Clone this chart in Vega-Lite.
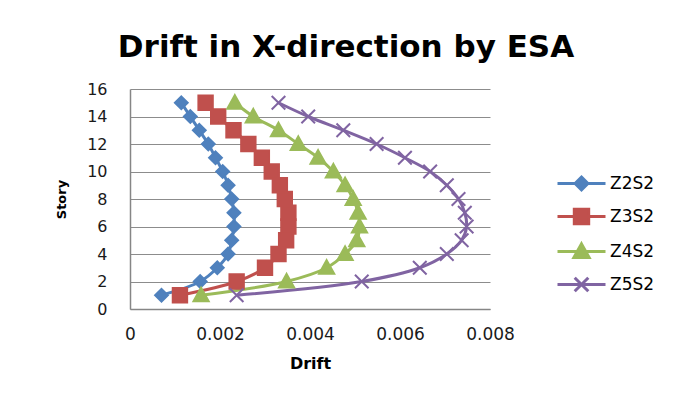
{
  "$schema": "https://vega.github.io/schema/vega-lite/v6.json",
  "width": 360,
  "height": 220,
  "autosize": "none",
  "padding": {"left": 130, "top": 89, "right": 196, "bottom": 85},
  "background": "white",
  "title": {
    "text": "Drift in X-direction by ESA",
    "font": "DejaVu Sans",
    "fontSize": 31,
    "fontWeight": "bold",
    "color": "#000000",
    "anchor": "middle",
    "dx": 36,
    "offset": 17
  },
  "config": {
    "view": {"stroke": null},
    "axis": {
      "labelFont": "DejaVu Sans",
      "labelColor": "#1a1a1a",
      "titleFont": "DejaVu Sans",
      "titleFontWeight": "bold",
      "titleColor": "#000000",
      "domainColor": "#868686",
      "domainWidth": 1.5,
      "gridColor": "#8c8c8c",
      "gridWidth": 1,
      "ticks": false
    }
  },
  "data": {
    "values": [
      {"series": "Z2S2", "story": 1, "drift": 0.0007},
      {"series": "Z2S2", "story": 2, "drift": 0.00156},
      {"series": "Z2S2", "story": 3, "drift": 0.00194},
      {"series": "Z2S2", "story": 4, "drift": 0.00218},
      {"series": "Z2S2", "story": 5, "drift": 0.00226},
      {"series": "Z2S2", "story": 6, "drift": 0.00231},
      {"series": "Z2S2", "story": 7, "drift": 0.00231},
      {"series": "Z2S2", "story": 8, "drift": 0.00226},
      {"series": "Z2S2", "story": 9, "drift": 0.00218},
      {"series": "Z2S2", "story": 10, "drift": 0.00206},
      {"series": "Z2S2", "story": 11, "drift": 0.0019},
      {"series": "Z2S2", "story": 12, "drift": 0.00174},
      {"series": "Z2S2", "story": 13, "drift": 0.00154},
      {"series": "Z2S2", "story": 14, "drift": 0.00134},
      {"series": "Z2S2", "story": 15, "drift": 0.00114},
      {"series": "Z3S2", "story": 1, "drift": 0.00111},
      {"series": "Z3S2", "story": 2, "drift": 0.00237},
      {"series": "Z3S2", "story": 3, "drift": 0.003},
      {"series": "Z3S2", "story": 4, "drift": 0.0033},
      {"series": "Z3S2", "story": 5, "drift": 0.00347},
      {"series": "Z3S2", "story": 6, "drift": 0.00352},
      {"series": "Z3S2", "story": 7, "drift": 0.00352},
      {"series": "Z3S2", "story": 8, "drift": 0.00344},
      {"series": "Z3S2", "story": 9, "drift": 0.00333},
      {"series": "Z3S2", "story": 10, "drift": 0.00315},
      {"series": "Z3S2", "story": 11, "drift": 0.00293},
      {"series": "Z3S2", "story": 12, "drift": 0.00263},
      {"series": "Z3S2", "story": 13, "drift": 0.0023},
      {"series": "Z3S2", "story": 14, "drift": 0.00196},
      {"series": "Z3S2", "story": 15, "drift": 0.00168},
      {"series": "Z4S2", "story": 1, "drift": 0.00158},
      {"series": "Z4S2", "story": 2, "drift": 0.00348},
      {"series": "Z4S2", "story": 3, "drift": 0.00437},
      {"series": "Z4S2", "story": 4, "drift": 0.00478},
      {"series": "Z4S2", "story": 5, "drift": 0.00504},
      {"series": "Z4S2", "story": 6, "drift": 0.0051},
      {"series": "Z4S2", "story": 7, "drift": 0.00507},
      {"series": "Z4S2", "story": 8, "drift": 0.00496},
      {"series": "Z4S2", "story": 9, "drift": 0.00478},
      {"series": "Z4S2", "story": 10, "drift": 0.00452},
      {"series": "Z4S2", "story": 11, "drift": 0.00418},
      {"series": "Z4S2", "story": 12, "drift": 0.00374},
      {"series": "Z4S2", "story": 13, "drift": 0.0033},
      {"series": "Z4S2", "story": 14, "drift": 0.00274},
      {"series": "Z4S2", "story": 15, "drift": 0.00233},
      {"series": "Z5S2", "story": 1, "drift": 0.00237},
      {"series": "Z5S2", "story": 2, "drift": 0.00515},
      {"series": "Z5S2", "story": 3, "drift": 0.00644},
      {"series": "Z5S2", "story": 4, "drift": 0.00704},
      {"series": "Z5S2", "story": 5, "drift": 0.00737},
      {"series": "Z5S2", "story": 6, "drift": 0.00748},
      {"series": "Z5S2", "story": 7, "drift": 0.00744},
      {"series": "Z5S2", "story": 8, "drift": 0.0073},
      {"series": "Z5S2", "story": 9, "drift": 0.00704},
      {"series": "Z5S2", "story": 10, "drift": 0.00667},
      {"series": "Z5S2", "story": 11, "drift": 0.00611},
      {"series": "Z5S2", "story": 12, "drift": 0.00548},
      {"series": "Z5S2", "story": 13, "drift": 0.00474},
      {"series": "Z5S2", "story": 14, "drift": 0.00396},
      {"series": "Z5S2", "story": 15, "drift": 0.0033}
    ]
  },
  "encoding": {
    "x": {
      "field": "drift",
      "type": "quantitative",
      "scale": {"domain": [0, 0.008]},
      "axis": {
        "values": [0, 0.002, 0.004, 0.006, 0.008],
        "format": "~g",
        "title": "Drift",
        "grid": false,
        "labelFlush": false,
        "labelPadding": 17,
        "labelFontSize": 17,
        "titleFontSize": 16,
        "titlePadding": 13
      }
    },
    "y": {
      "field": "story",
      "type": "quantitative",
      "scale": {"domain": [0, 16]},
      "axis": {
        "values": [0, 2, 4, 6, 8, 10, 12, 14, 16],
        "title": "Story",
        "grid": true,
        "labelPadding": 23,
        "labelFontSize": 16,
        "titleFontSize": 13,
        "titlePadding": 18
      }
    },
    "color": {
      "field": "series",
      "type": "nominal",
      "scale": {
        "domain": ["Z2S2", "Z3S2", "Z4S2", "Z5S2"],
        "range": ["#4F81BD", "#C0504D", "#9BBB59", "#8064A2"]
      },
      "legend": {
        "title": null,
        "orient": "none",
        "legendX": 442,
        "legendY": 85,
        "direction": "vertical",
        "padding": 0,
        "symbolSize": 256,
        "labelOffset": 19,
        "labelFont": "DejaVu Sans",
        "labelFontSize": 17,
        "labelColor": "#000000",
        "rowPadding": 7,
        "encode": {
          "symbols": {
            "update": {
              "shape": {"signal": "datum.value === 'Z2S2' ? 'M-3,0H3M0,-0.8L0.8,0L0,0.8L-0.8,0Z' : datum.value === 'Z3S2' ? 'M-3,0H3M-0.9,-0.9H0.9V0.9H-0.9Z' : datum.value === 'Z4S2' ? 'M-3,0H3M0,-0.95L0.95,0.75L-0.95,0.75Z' : 'M-3,0H3M-0.85,-0.85L0.85,0.85M0.85,-0.85L-0.85,0.85'"},
              "fill": {"scale": "color", "field": "value"},
              "stroke": {"scale": "color", "field": "value"},
              "strokeWidth": {"value": 3},
              "size": {"value": 256},
              "opacity": {"value": 1}
            }
          }
        }
      }
    }
  },
  "layer": [
    {
      "mark": {"type": "line", "interpolate": "catmull-rom", "strokeWidth": 3},
      "encoding": {"order": {"field": "story", "type": "quantitative"}}
    },
    {
      "mark": {"type": "point", "filled": true, "size": 256, "strokeWidth": 2, "opacity": 1},
      "encoding": {
        "shape": {
          "field": "series",
          "type": "nominal",
          "scale": {
            "domain": ["Z5S2", "Z4S2", "Z3S2", "Z2S2"],
            "range": [
              "M-0.85,-0.85L0.85,0.85M0.85,-0.85L-0.85,0.85",
              "M0,-0.95L0.95,0.75L-0.95,0.75Z",
              "M-0.9,-0.9H0.9V0.9H-0.9Z",
              "M0,-0.8L0.8,0L0,0.8L-0.8,0Z"
            ]
          },
          "legend": null
        },
        "stroke": {
          "field": "series",
          "type": "nominal",
          "scale": {
            "domain": ["Z2S2", "Z3S2", "Z4S2", "Z5S2"],
            "range": ["#4F81BD", "#C0504D", "#9BBB59", "#8064A2"]
          },
          "legend": null
        }
      }
    }
  ]
}
